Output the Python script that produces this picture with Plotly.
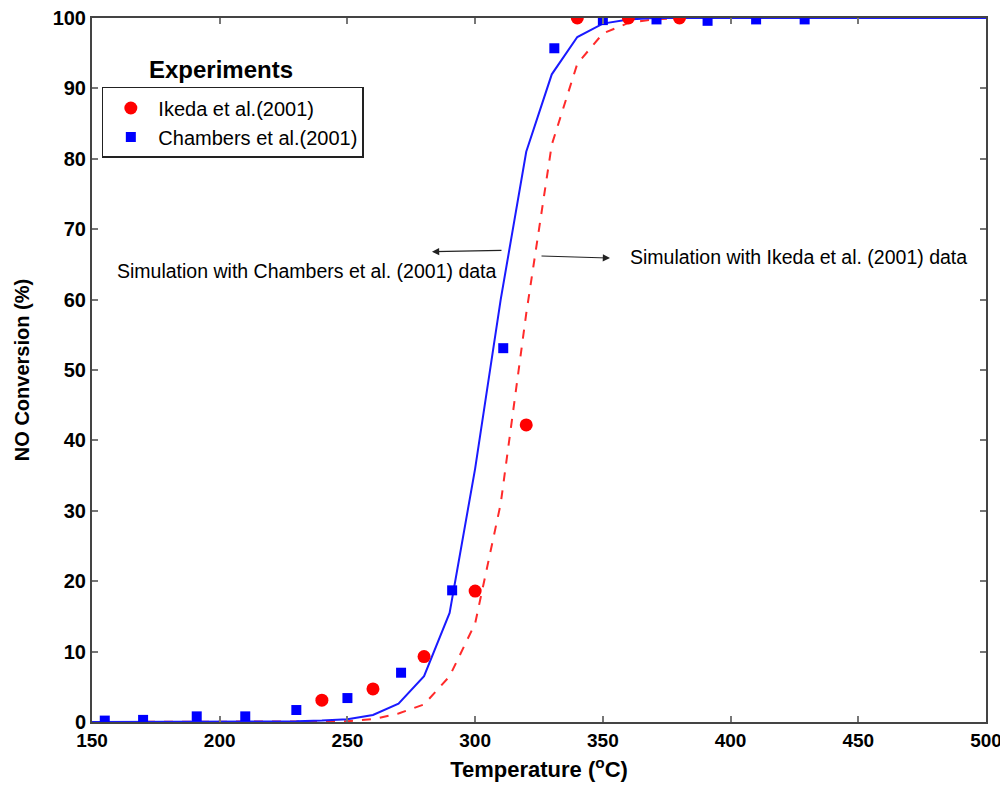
import plotly.graph_objects as go

# Experimental data
ikeda_T = [240, 260, 280, 300, 320, 340, 360, 380]
ikeda_conv = [3.1, 4.7, 9.3, 18.6, 42.2, 100.0, 100.0, 100.0]

chambers_T = [155, 170, 191, 210, 230, 250, 271, 291, 311, 331, 350, 371, 391, 410, 429]
chambers_conv = [0.2, 0.3, 0.8, 0.8, 1.7, 3.4, 7.0, 18.7, 53.1, 95.7, 99.7, 99.8, 99.6, 99.8, 99.8]

# Simulation curves
sim_T = [150, 160, 170, 180, 190, 200, 210, 220, 230, 240, 250, 260, 270, 280, 290, 300,
         310, 320, 330, 340, 350, 360, 370, 380, 390, 400, 410, 420, 430, 440, 450, 460,
         470, 480, 490, 500]
sim_chambers = [0, 0, 0, 0, 0, 0, 0, 0, 0.1, 0.2, 0.4, 1.0, 2.6, 6.5, 15.5, 36,
                60, 81, 92, 97.3, 99.2, 99.8, 100, 100, 100, 100, 100, 100, 100, 100, 100, 100,
                100, 100, 100, 100]
sim_ikeda = [0, 0, 0, 0, 0, 0, 0, 0, 0, 0, 0.1, 0.4, 1.2, 2.5, 6.5, 14,
             31, 58, 82, 93.5, 97.8, 99.3, 99.8, 100, 100, 100, 100, 100, 100, 100, 100, 100,
             100, 100, 100, 100]

FONT = "Liberation Sans, Arial, sans-serif"

fig = go.Figure()
fig.add_trace(go.Scatter(x=sim_T, y=sim_ikeda, mode="lines",
                         line=dict(color="#ff2a2a", width=2, dash="dash"),
                         showlegend=False, hoverinfo="skip"))
fig.add_trace(go.Scatter(x=sim_T, y=sim_chambers, mode="lines",
                         line=dict(color="#1a1aff", width=2),
                         showlegend=False, hoverinfo="skip"))
fig.add_trace(go.Scatter(x=ikeda_T, y=ikeda_conv, mode="markers",
                         name="Ikeda et al.(2001)",
                         marker=dict(symbol="circle", size=13, color="#ff0000")))
fig.add_trace(go.Scatter(x=chambers_T, y=chambers_conv, mode="markers",
                         name="Chambers et al.(2001)",
                         marker=dict(symbol="square", size=10, color="#0000ff")))

axis_common = dict(showgrid=False, zeroline=False, showline=True, linecolor="#444",
                   linewidth=2, mirror="ticks", ticks="inside", ticklen=6,
                   tickcolor="#777", tickwidth=1.5, automargin=False,
                   ticklabeloverflow="allow")

fig.update_layout(
    width=1000, height=774,
    margin=dict(l=84, r=22, t=10, b=60),
    paper_bgcolor="white", plot_bgcolor="white",
    font=dict(family=FONT, color="black"),
    xaxis=dict(range=[150, 500], tickvals=[150, 200, 250, 300, 350, 400, 450, 500],
               tickfont=dict(family=FONT, size=19, color="black", weight="bold"),
               title=dict(text="Temperature (<sup>o</sup>C)", standoff=20,
                          font=dict(family=FONT, size=22, color="black", weight="bold")),
               **axis_common),
    yaxis=dict(range=[0, 100], tickvals=list(range(0, 101, 10)),
               tickfont=dict(family=FONT, size=20, color="black", weight="bold"),
               title=dict(text="NO Conversion (%)", standoff=18,
                          font=dict(family=FONT, size=20, color="black", weight="bold")),
               **axis_common),
    legend=dict(x=0.011, y=0.902, xanchor="left", yanchor="top",
                bgcolor="white", bordercolor="#222", borderwidth=1.5,
                font=dict(family=FONT, size=20, color="black"),
                itemwidth=45, tracegroupgap=0),
    showlegend=True,
)

fig.add_annotation(x=0.062, y=0.905, xref="paper", yref="paper", xanchor="left",
                   yanchor="bottom", showarrow=False, text="<b>Experiments</b>",
                   font=dict(family=FONT, size=24, color="black"))

fig.add_annotation(x=159, y=64.1, xref="x", yref="y", xanchor="left",
                   yanchor="middle", showarrow=False,
                   text="Simulation with Chambers et al. (2001) data",
                   font=dict(family=FONT, size=19.5, color="black"))
fig.add_annotation(x=360, y=66.05, xref="x", yref="y", xanchor="left",
                   yanchor="middle", showarrow=False,
                   text="Simulation with Ikeda et al. (2001) data",
                   font=dict(family=FONT, size=19.5, color="black"))

# arrows
fig.add_annotation(x=283.1, y=66.8, ax=310.9, ay=67.0, xref="x", yref="y",
                   axref="x", ayref="y", text="", showarrow=True,
                   arrowhead=2, arrowsize=1.2, arrowwidth=1.2, arrowcolor="#222")
fig.add_annotation(x=352.8, y=65.9, ax=325.4, ay=66.2, xref="x", yref="y",
                   axref="x", ayref="y", text="", showarrow=True,
                   arrowhead=2, arrowsize=1.2, arrowwidth=1.2, arrowcolor="#222")

fig.write_html("out.html")
